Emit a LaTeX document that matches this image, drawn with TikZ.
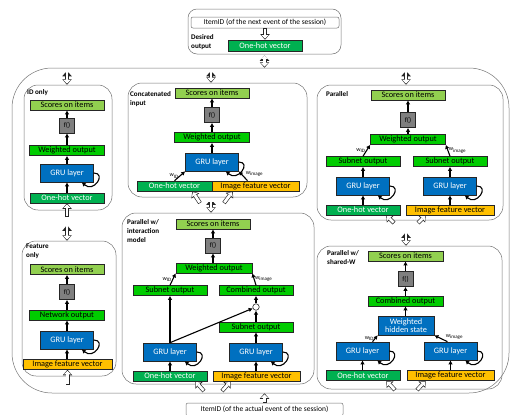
\documentclass[tikz,border=0pt]{standalone}
\usepackage{fontspec}
\setmainfont{Carlito}
\usetikzlibrary{arrows.meta}

\definecolor{scoregreen}{HTML}{92D050}
\definecolor{outgreen}{HTML}{00CC00}
\definecolor{hotgreen}{HTML}{00B050}
\definecolor{grublue}{HTML}{0070C0}
\definecolor{featorange}{HTML}{FFC000}
\definecolor{fgray}{HTML}{7F7F7F}

\tikzset{
  blk/.style={draw=black!85, line width=0.6pt, inner sep=0pt, minimum height=10pt, font=\fontsize{8.3}{8.6}\selectfont},
  scores/.style={blk, fill=scoregreen, minimum width=74pt},
  outp/.style={blk, fill=outgreen, minimum width=75pt},
  onehot/.style={blk, fill=hotgreen, text=white, minimum width=74pt},
  imgvec/.style={blk, fill=featorange, minimum width=87pt},
  gru/.style={blk, fill=grublue, text=white, minimum width=53pt, minimum height=18pt},
  func/.style={blk, fill=fgray, minimum width=15pt, minimum height=15pt, font=\fontsize{7}{7}\selectfont},
  itembox/.style={draw=black!55, line width=0.5pt, rounded corners=2pt, fill=white, inner sep=0pt, font=\fontsize{7.5}{8}\selectfont},
  panel/.style={draw=black!55, line width=0.5pt, rounded corners=14pt, inner sep=0pt},
  lbl/.style={anchor=north west, align=left, inner sep=0pt, font=\bfseries\fontsize{7.1}{9}\selectfont},
  wlbl/.style={inner sep=0.5pt, font=\fontsize{6}{6}\selectfont},
  arr/.style={line width=1.1pt, -{Latex[length=4pt,width=4.5pt]}},
  hol/.style={draw=black!85, line width=4pt, -{Triangle[length=5.5pt,width=9.5pt,line width=0pt]},
    postaction={draw=white, line width=2.7pt, shorten <=0.6pt, shorten >=1.1pt, -{Triangle[length=3.5pt,width=7pt,line width=0pt]}}},
  dhol/.style={draw=black!85, line width=4pt, {Triangle[length=5.5pt,width=9.5pt,line width=0pt]}-{Triangle[length=5.5pt,width=9.5pt,line width=0pt]},
    postaction={draw=white, line width=2.7pt, shorten <=1.1pt, shorten >=1.1pt, {Triangle[length=3.5pt,width=7pt,line width=0pt]}-{Triangle[length=3.5pt,width=7pt,line width=0pt]}}}
}

\begin{document}
\begin{tikzpicture}[x=1pt,y=-1pt]%[pixels]
\useasboundingbox (0,0) rectangle (512,415);

% containers
\node [panel, rounded corners=40pt, minimum width=497pt, minimum height=325pt] (outer) at (260.5,230.5) {};
\node [panel, rounded corners=9pt, minimum width=153pt, minimum height=45pt] (top) at (264.5,31.5) {};
\node [panel, minimum width=88pt, minimum height=125pt] (pid) at (68,147.5) {};
\node [panel, minimum width=94pt, minimum height=135pt] (pfeat) at (69,308.5) {};
\node [panel, minimum width=179pt, minimum height=114pt] (pcat) at (217.5,140) {};
\node [panel, minimum width=192pt, minimum height=171pt] (pint) at (218,298.5) {};
\node [panel, minimum width=186pt, minimum height=135pt] (ppar) at (410,152.5) {};
\node [panel, minimum width=185pt, minimum height=143pt] (pshr) at (409.5,317.5) {};

% desired output
\node [itembox, minimum width=148pt, minimum height=11pt] (next) at (265,22.5) {ItemID (of the next event of the session)};
\node [lbl] at (191,34) {Desired\\output};
\node [onehot, minimum height=11pt] (hot0) at (265,45.5) {One-hot vector};
\node [itembox, minimum width=157pt, minimum height=13pt] (actual) at (264.5,409.5) {ItemID (of the actual event of the session)};

% ID only
\node [lbl] at (27,89.5) {ID only};
\node [scores] (idsc) at (67,105) {Scores on items};
\node [func] (idf) at (67,125.5) {f()};
\node [outp] (idwo) at (67,150.5) {Weighted output};
\node [gru] (idgru) at (67,173) {GRU layer};
\node [onehot] (idhot) at (67,198) {One-hot vector};

% Feature only
\node [lbl] at (26,244) {Feature\\only};
\node [scores] (ftsc) at (67,269.5) {Scores on items};
\node [func] (ftf) at (67,292) {f()};
\node [outp] (ftno) at (67,315) {Network output};
\node [gru] (ftgru) at (67,340) {GRU layer};
\node [imgvec, minimum width=89pt] (ftimg) at (67.5,364.5) {Image feature vector};

% Concatenated input
\node [lbl] at (130,91.5) {Concatenated\\input};
\node [scores] (casc) at (212,93) {Scores on items};
\node [func] (caf) at (212,115) {f()};
\node [outp] (cawo) at (212,137.5) {Weighted output};
\node [gru] (cagru) at (212,162) {GRU layer};
\node [onehot, minimum width=75pt] (cahot) at (174.5,186) {One-hot vector};
\node [imgvec] (caimg) at (255.5,186) {Image feature vector};

% Parallel
\node [lbl] at (326,91.5) {Parallel};
\node [scores] (pasc) at (408,95) {Scores on items};
\node [func] (paf) at (408,120) {f()};
\node [outp] (pawo) at (408,139.5) {Weighted output};
\node [outp, minimum width=74pt] (pasub1) at (363,161.5) {Subnet output};
\node [outp, minimum width=74pt] (pasub2) at (450,161.5) {Subnet output};
\node [gru] (pagru1) at (363,186) {GRU layer};
\node [gru] (pagru2) at (450,186) {GRU layer};
\node [onehot] (pahot) at (363,210) {One-hot vector};
\node [imgvec, minimum width=88pt] (paimg) at (450,210) {Image feature vector};

% Parallel w/ interaction
\node [lbl] at (127,219.5) {Parallel w/\\interaction\\model};
\node [scores] (insc) at (213,224) {Scores on items};
\node [func] (inf) at (213,245.5) {f()};
\node [outp, minimum width=76pt] (inwo) at (214,268) {Weighted output};
\node [outp, minimum width=74pt] (insub1) at (170,290.5) {Subnet output};
\node [outp, minimum width=74pt] (incomb) at (256,290.5) {Combined output};
\node [draw=black!85, line width=0.6pt, circle, fill=white, inner sep=0pt, minimum size=6.5pt] (inmul) at (256,307) {};
\node [outp, minimum width=74pt] (insub2) at (256,327) {Subnet output};
\node [gru] (ingru1) at (170,352) {GRU layer};
\node [gru] (ingru2) at (256,352) {GRU layer};
\node [onehot] (inhot) at (170,376) {One-hot vector};
\node [imgvec] (inimg) at (256.5,376) {Image feature vector};

% Parallel w/ shared-W
\node [lbl] at (327,250.5) {Parallel w/\\shared-W};
\node [scores, minimum width=75pt] (shsc) at (405.5,256) {Scores on items};
\node [func] (shf) at (405.5,279) {f()};
\node [outp] (shcomb) at (405.5,301) {Combined output};
\node [gru, minimum width=56pt, minimum height=19pt, align=center] (shwh) at (406,325.5) {Weighted\\hidden state};
\node [gru] (shgru1) at (362.5,351) {GRU layer};
\node [gru] (shgru2) at (450.5,351) {GRU layer};
\node [onehot] (shhot) at (363,375.5) {One-hot vector};
\node [imgvec] (shimg) at (450.5,375.5) {Image feature vector};

% black arrows
\draw [arr] (idhot) -- (idgru);
\draw [arr] (idgru) -- (idwo);
\draw [arr] (idwo) -- (idf);
\draw [arr] (idf) -- (idsc);

\draw [arr] (ftimg.north -| ftgru) -- (ftgru);
\draw [arr] (ftgru) -- (ftno);
\draw [arr] (ftno) -- (ftf);
\draw [arr] (ftf) -- (ftsc);

\draw [arr] (cahot.north) -- node [wlbl, left] {w\textsubscript{ID}} (cagru.south west);
\draw [arr] ([xshift=-8pt]caimg.north) -- node [wlbl, above right, pos=.3] {w\textsubscript{image}} (cagru.south east);
\draw [arr] (cagru) -- (cawo);
\draw [arr] (cawo) -- (caf);
\draw [arr] (caf) -- (casc);

\draw [arr] (pahot) -- (pagru1);
\draw [arr] (paimg) -- (pagru2);
\draw [arr] (pagru1) -- (pasub1);
\draw [arr] (pagru2) -- (pasub2);
\draw [arr] (pasub1.north) -- node [wlbl, left] {w\textsubscript{ID}} (pawo.south west);
\draw [arr] (pasub2.north) -- node [wlbl, right] {w\textsubscript{image}} (pawo.south east);
\draw [arr] (pawo) -- (paf);
\draw [arr] (paf) -- (pasc);

\draw [arr] (inhot) -- (ingru1);
\draw [arr] (inimg.north -| ingru2) -- (ingru2);
\draw [arr] (ingru1) -- (insub1);
\draw [arr] (ingru1.north) -- (inmul);
\draw [arr] (ingru2) -- (insub2);
\draw [arr] (insub2) -- (inmul);
\draw [arr] (inmul) -- (incomb);
\draw [arr] (insub1.north) -- node [wlbl, left] {w\textsubscript{ID}} (inwo.south west);
\draw [arr] (incomb.north) -- node [wlbl, right] {w\textsubscript{image}} (inwo.south east);
\draw [arr] (inwo.north -| inf) -- (inf);
\draw [arr] (inf) -- (insc);

\draw [arr] (shhot.north -| shgru1) -- (shgru1);
\draw [arr] (shimg) -- (shgru2);
\draw [arr] ([xshift=10pt]shgru1.north) -- node [wlbl, left] {w\textsubscript{ID}} (shwh.south west);
\draw [arr] ([xshift=-3pt]shgru2.north) -- node [wlbl, above right, pos=.2] {w\textsubscript{image}} (shwh.south east);
\draw [arr] (shwh.north -| shcomb) -- (shcomb);
\draw [arr] (shcomb) -- (shf);
\draw [arr] (shf) -- (shsc);

% recurrent loops
\draw [arr] (idgru.east) .. controls +(13,0) and +(12,11) .. ([xshift=-12pt]idgru.south east);
\draw [arr] (ftgru.east) .. controls +(13,0) and +(12,11) .. ([xshift=-12pt]ftgru.south east);
\draw [arr] (cagru.east) .. controls +(13,0) and +(12,11) .. ([xshift=-13pt]cagru.south east);
\draw [arr] (pagru1.east) .. controls +(13,0) and +(12,11) .. ([xshift=-12pt]pagru1.south east);
\draw [arr] (pagru2.east) .. controls +(13,0) and +(12,11) .. ([xshift=-12pt]pagru2.south east);
\draw [arr] (ingru1.east) .. controls +(13,0) and +(12,11) .. ([xshift=-12pt]ingru1.south east);
\draw [arr] (ingru2.east) .. controls +(13,0) and +(12,11) .. ([xshift=-12pt]ingru2.south east);
\draw [arr] (shgru1.east) .. controls +(13,0) and +(12,11) .. ([xshift=-12pt]shgru1.south east);
\draw [arr] (shgru2.east) .. controls +(13,0) and +(12,11) .. ([xshift=-12pt]shgru2.south east);

% hollow arrows
\coordinate (inid) at (67,217);
\coordinate (inft) at (67.5,385);
\coordinate (inca1) at (200,203);
\coordinate (inca2) at (224,203);
\coordinate (inpa1) at (394,223);
\coordinate (inpa2) at (418,223);
\coordinate (inin1) at (204,391);
\coordinate (inin2) at (222,391);
\coordinate (insh1) at (395,390);
\coordinate (insh2) at (417,390);

\draw [hol] (next.south) -- (hot0.north);
\draw [dhol, shorten <=1pt] (top.south) -- (top.south |- outer.north);
\draw [dhol, shorten <=3pt] ([xshift=-1pt]pid.north |- outer.north) -- ([xshift=-1pt]pid.north);
\draw [dhol, shorten <=3pt] ([xshift=-6.5pt]pcat.north |- outer.north) -- ([xshift=-6.5pt]pcat.north);
\draw [dhol, shorten <=3pt] ([xshift=-4pt]ppar.north |- outer.north) -- ([xshift=-4pt]ppar.north);
\draw [dhol, shorten <=15pt] ([xshift=-1pt]pid.south) -- ([xshift=-1pt]pid.south |- pfeat.north);
\draw [dhol, shorten <=2pt] ([xshift=-6.5pt]pcat.south) -- ([xshift=-6.5pt]pcat.south |- pint.north);
\draw [dhol, shorten <=12pt] ([xshift=-4pt]ppar.south) -- ([xshift=-4pt]ppar.south |- pshr.north);

\draw [hol] (inid) -- (idhot.south);
\draw [hol] (inft) -- (ftimg.south);
\draw [hol] (inca1) -- ([xshift=-20pt]cahot.south east);
\draw [hol] (inca2) -- ([xshift=21pt]caimg.south west);
\draw [hol] (inpa1) -- ([xshift=-14pt]pahot.south east);
\draw [hol] (inpa2) -- ([xshift=20pt]paimg.south west);
\draw [hol] (inin1) -- ([xshift=-12pt]inhot.south east);
\draw [hol] (inin2) -- ([xshift=18pt]inimg.south west);
\draw [hol] (insh1) -- ([xshift=-14pt]shhot.south east);
\draw [hol] (insh2) -- ([xshift=19pt]shimg.south west);
\draw [hol] (actual.north) -- (actual.north |- outer.south);
\end{tikzpicture}
\end{document}
